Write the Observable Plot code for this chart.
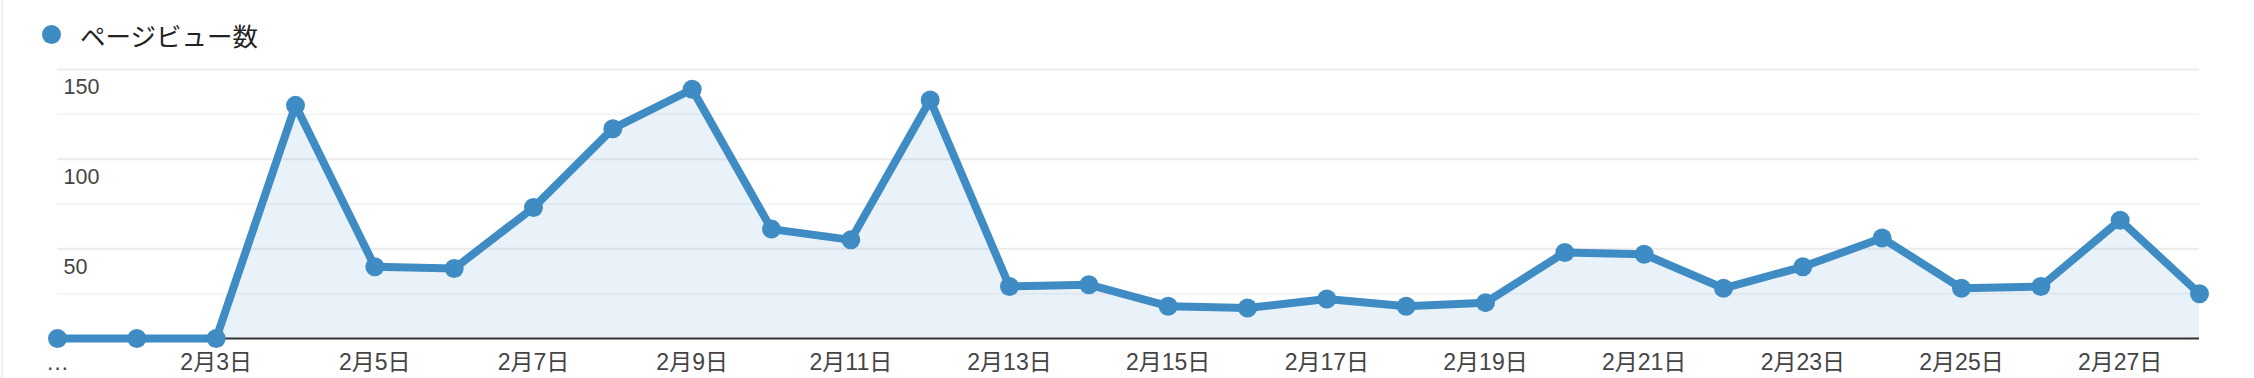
<!DOCTYPE html>
<html><head><meta charset="utf-8">
<script src="https://cdn.jsdelivr.net/npm/d3@7"></script>
<script src="https://cdn.jsdelivr.net/npm/@observablehq/plot@0.6"></script>
<style>
html,body{margin:0;padding:0;background:#fff;}
body{width:2254px;height:378px;overflow:hidden;position:relative;font-family:"Liberation Sans","Noto Sans CJK JP",sans-serif;}
#edge{position:absolute;left:1px;top:0;width:2px;height:378px;background:#f0f0f0;}
#legend{position:relative;height:60px;}
#legend .dot{position:absolute;left:42px;top:25px;width:19px;height:19px;border-radius:50%;background:#3f8cc4;}
#legend .label{position:absolute;left:80px;top:22px;font-size:25.5px;line-height:25.5px;color:#222;font-family:"Noto Sans CJK JP",sans-serif;white-space:nowrap;}
#chart svg{display:block;}
</style></head><body>
<div id="edge"></div>
<div id="legend"><span class="dot"></span><span class="label" id="legendLabel"></span></div>
<div id="chart"></div>
<script>
const seriesName = "ページビュー数";
const year = 2020;
const monthIndex = 1; // February
const days = [1,2,3,4,5,6,7,8,9,10,11,12,13,14,15,16,17,18,19,20,21,22,23,24,25,26,27,28];
const pageViews = [0,0,0,130,40,39,73,117,139,61,55,133,29,30,18,17,22,18,20,48,47,28,40,56,28,29,66,25];
const tickDays = [1,3,5,7,9,11,13,15,17,19,21,23,25,27];
const tickLabels = ["…","2月3日","2月5日","2月7日","2月9日","2月11日","2月13日","2月15日","2月17日","2月19日","2月21日","2月23日","2月25日","2月27日"];
const majorTicks = [50,100,150];
const minorTicks = [25,75,125];

document.getElementById("legendLabel").textContent = seriesName;

const toDate = d => new Date(Date.UTC(year, monthIndex, d));
const data = days.map((d, i) => ({date: toDate(d), value: pageViews[i]}));
const tickDates = tickDays.map(toDate);
const labelOf = new Map(tickDates.map((t, i) => [+t, tickLabels[i]]));

const blue = "#3f8cc4";
const font = '"Liberation Sans","Noto Sans CJK JP",sans-serif';

const chart = Plot.plot({
  width: 2254,
  height: 318,
  marginLeft: 57,
  marginRight: 55,
  marginTop: 9,
  marginBottom: 40,
  style: {fontFamily: font, fontSize: "21px", color: "#444", background: "#fff", overflow: "visible"},
  x: {type: "utc", domain: [data[0].date, data[data.length - 1].date], label: null},
  y: {domain: [0, 150], label: null},
  marks: [
    Plot.ruleY(minorTicks, {stroke: "#f4f4f4", strokeWidth: 2}),
    Plot.ruleY(majorTicks, {stroke: "#ebebeb", strokeWidth: 2}),
    Plot.areaY(data, {x: "date", y: "value", fill: blue, fillOpacity: 0.11}),
    Plot.ruleY([0], {stroke: "#333", strokeWidth: 2}),
    Plot.lineY(data, {x: "date", y: "value", stroke: blue, strokeWidth: 8, strokeLinejoin: "round", strokeLinecap: "round"}),
    Plot.dot(data, {x: "date", y: "value", r: 9.5, fill: blue}),
    Plot.axisX({ticks: tickDates, tickFormat: d => labelOf.get(+d), tickSize: 0, tickPadding: 15, fontSize: 23, fill: "#444", label: null}),
    Plot.axisY({ticks: majorTicks, anchor: "left", tickSize: 0, tickPadding: 0, textAnchor: "start", dx: 6, dy: 18, fontSize: 21.5, fill: "#444", label: null})
  ]
});
document.getElementById("chart").appendChild(chart);
</script>
</body></html>
